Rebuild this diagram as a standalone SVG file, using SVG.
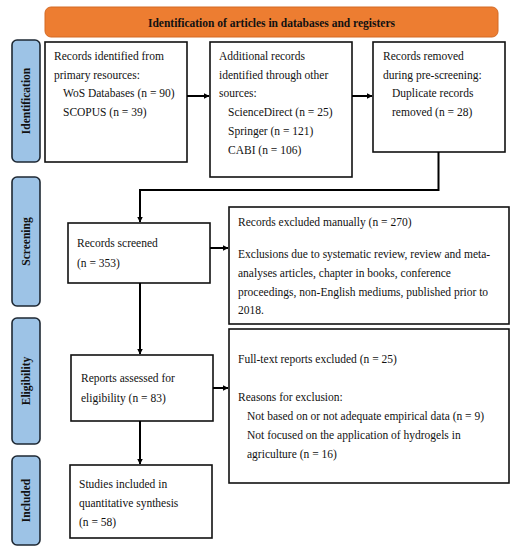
<svg xmlns="http://www.w3.org/2000/svg" width="517" height="550" viewBox="0 0 517 550">
<defs>
<marker id="arr" markerWidth="6" markerHeight="6" refX="5.5" refY="3" orient="auto" markerUnits="userSpaceOnUse">
<path d="M0,0 L6,3 L0,6 Z" fill="#000"/>
</marker>
<style>
text{font-family:"Liberation Serif","Times New Roman",serif;font-size:11.5px;fill:#111}
.box{fill:#fff;stroke:#111;stroke-width:1.6}
.side{fill:#9dc3e6;stroke:#1e2833;stroke-width:1.6}
.sl{font-weight:bold;text-anchor:middle}
.conn{fill:none;stroke:#000;stroke-width:2}
</style>
</defs>
<rect width="517" height="550" fill="#fff"/>
<g id="banner">
<rect x="45" y="7" width="453" height="30" rx="6" fill="#ed7d31" stroke="#d46a25" stroke-width="1"/>
<text x="271.5" y="27" class="sl">Identification of articles in databases and registers</text>
</g>
<g id="side-identification">
<rect x="12" y="40" width="28" height="122" rx="5" class="side"/>
<text class="sl" transform="translate(30,101) rotate(-90)">Identification</text>
</g>
<g id="side-screening">
<rect x="12" y="177" width="28" height="129" rx="5" class="side"/>
<text class="sl" transform="translate(30,241.5) rotate(-90)">Screening</text>
</g>
<g id="side-eligibility">
<rect x="12" y="318" width="28" height="126" rx="5" class="side"/>
<text class="sl" transform="translate(30,381) rotate(-90)">Eligibility</text>
</g>
<g id="side-included">
<rect x="12" y="456" width="28" height="89" rx="5" class="side"/>
<text class="sl" transform="translate(30,500.5) rotate(-90)">Included</text>
</g>
<g id="n-primary">
<rect x="45" y="42" width="142" height="120" class="box"/>
<text x="54" y="60">Records identified from</text>
<text x="54" y="79">primary resources:</text>
<text x="63" y="97">WoS Databases (n = 90)</text>
<text x="63" y="116">SCOPUS  (n = 39)</text>
</g>
<g id="n-additional">
<rect x="210" y="42" width="142" height="135" class="box"/>
<text x="219" y="60">Additional records</text>
<text x="219" y="79">identified through other</text>
<text x="219" y="97">sources:</text>
<text x="228" y="116">ScienceDirect (n = 25)</text>
<text x="228" y="135">Springer (n = 121)</text>
<text x="228" y="154">CABI (n = 106)</text>
</g>
<g id="n-removed">
<rect x="373" y="42" width="132" height="110" class="box"/>
<text x="383" y="60">Records removed</text>
<text x="383" y="79">during pre-screening:</text>
<text x="392" y="97">Duplicate records</text>
<text x="392" y="116">removed (n = 28)</text>
</g>
<g id="n-screened">
<rect x="68" y="223" width="142" height="60" class="box"/>
<text x="77" y="247">Records screened</text>
<text x="77" y="267">(n = 353)</text>
</g>
<g id="n-excluded">
<rect x="229" y="207" width="280" height="117" class="box"/>
<text x="238" y="226">Records excluded manually (n = 270)</text>
<text x="238" y="258">Exclusions due to systematic review, review and meta-</text>
<text x="238" y="277">analyses articles, chapter in books, conference</text>
<text x="238" y="296">proceedings, non-English mediums, published prior to</text>
<text x="238" y="314">2018.</text>
</g>
<g id="n-assessed">
<rect x="71" y="355" width="142" height="66" class="box"/>
<text x="81" y="382">Reports assessed for</text>
<text x="81" y="402">eligibility  (n = 83)</text>
</g>
<g id="n-fulltext">
<rect x="229" y="329" width="280" height="154" class="box"/>
<text x="238" y="363">Full-text reports excluded (n = 25)</text>
<text x="238" y="401">Reasons for exclusion:</text>
<text x="247" y="420">Not based on or not adequate empirical data (n = 9)</text>
<text x="247" y="439">Not focused on the application of hydrogels in</text>
<text x="247" y="458">agriculture  (n = 16)</text>
</g>
<g id="n-included">
<rect x="70" y="465" width="142" height="73" class="box"/>
<text x="79" y="488">Studies included in</text>
<text x="79" y="507">quantitative synthesis</text>
<text x="79" y="526">(n = 58)</text>
</g>
<g id="connectors">
<path class="conn" d="M187,96 H209" marker-end="url(#arr)"/>
<path class="conn" d="M352,96 H372" marker-end="url(#arr)"/>
<path class="conn" d="M438.5,152 V190 H140 V222" marker-end="url(#arr)"/>
<path class="conn" d="M210,248 H228" marker-end="url(#arr)"/>
<path class="conn" d="M140,283 V354" marker-end="url(#arr)"/>
<path class="conn" d="M213,388 H228" marker-end="url(#arr)"/>
<path class="conn" d="M140,421 V464" marker-end="url(#arr)"/>
</g>
</svg>
